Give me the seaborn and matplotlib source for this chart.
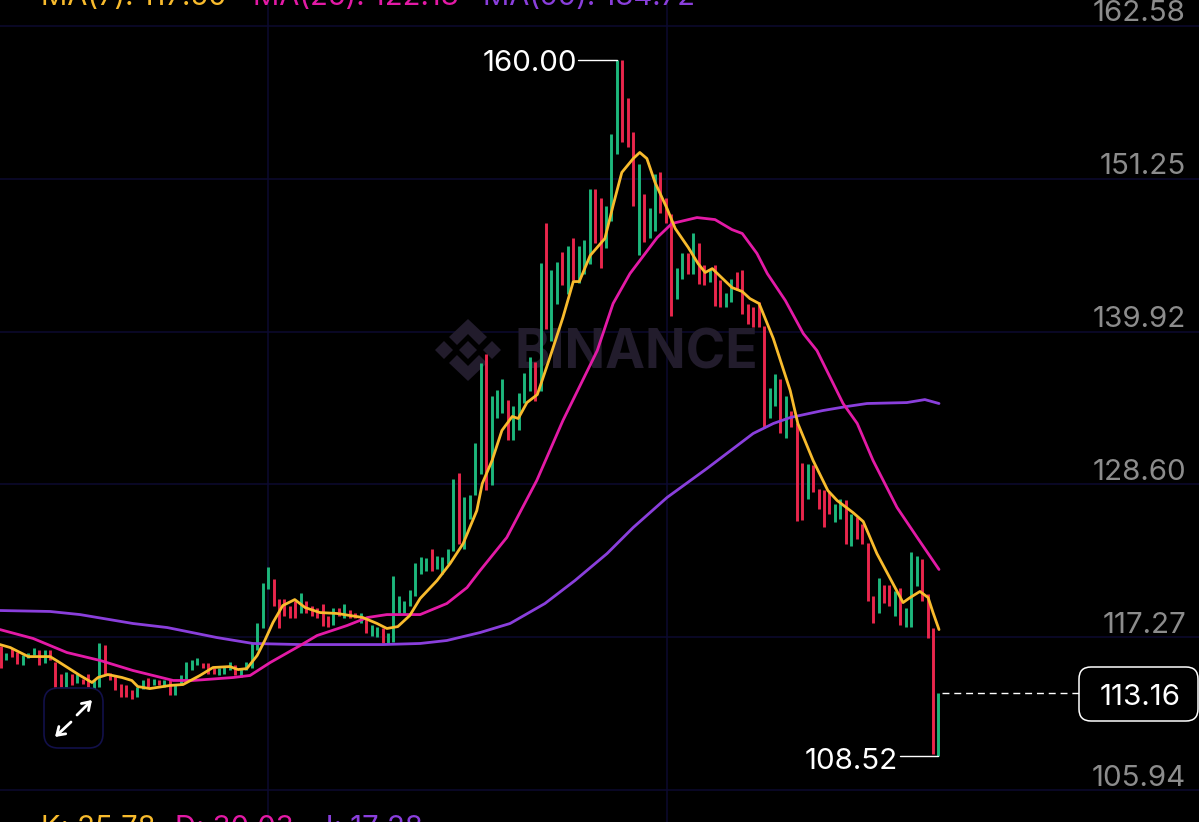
"""Binance style candle chart with three moving averages, saved to out.png."""

import matplotlib.pyplot as plt
import numpy as np
import pandas as pd
import seaborn as sns
from matplotlib.patches import FancyBboxPatch, Polygon

W, H = 1199, 822

GREEN = "#1db77c"
RED = "#e9264c"
YELLOW = "#f8bb2d"
MAGENTA = "#e31aa6"
PURPLE = "#8a3fdc"
GRID = "#0c0a30"
AXIS_TEXT = "#8c8c8c"

# bar ends in price, one entry per candle
candle_high = [
    116.67, 116.15, 116.45, 116.22, 116.00, 116.15, 116.45, 116.37, 116.30, 116.30,
    115.48, 114.59, 114.74, 114.59, 114.59, 114.22, 114.59, 114.08, 116.89, 116.74,
    114.67, 114.45, 113.85, 113.71, 113.41, 113.56, 114.08, 114.30, 114.22, 114.08,
    114.15, 114.08, 113.85, 114.52, 115.48, 115.56, 115.78, 115.41, 115.41, 115.04,
    115.04, 115.11, 115.48, 115.26, 114.96, 115.48, 116.82, 118.30, 121.33, 122.52,
    121.63, 120.15, 120.15, 119.63, 120.00, 120.59, 120.00, 119.63, 119.41, 119.78,
    118.89, 119.48, 119.41, 119.78, 119.33, 119.04, 119.11, 118.74, 118.22, 118.07,
    117.93, 117.56, 121.85, 120.37, 120.00, 120.81, 122.81, 123.26, 123.18, 123.85,
    123.33, 123.26, 123.85, 129.03, 129.48, 127.63, 127.85, 131.70, 137.62, 138.29,
    135.18, 135.62, 136.44, 134.88, 134.37, 135.40, 136.88, 138.07, 137.70, 145.03,
    147.92, 144.51, 145.10, 145.84, 146.29, 146.88, 146.29, 146.73, 150.51, 150.51,
    149.84, 149.18, 154.58, 160.00, 159.99, 157.25, 154.73, 152.36, 150.07, 149.10,
    151.62, 151.70, 149.84, 148.66, 144.66, 145.77, 145.70, 147.25, 146.44, 144.88,
    144.58, 144.81, 143.70, 142.81, 143.84, 144.36, 144.44, 141.99, 141.77, 142.14,
    140.36, 135.77, 136.74, 136.37, 135.11, 134.07, 133.18, 130.22, 130.14, 130.00,
    128.29, 128.15, 128.00, 127.18, 127.55, 127.48, 126.44, 126.15, 125.70, 124.29,
    120.37, 121.70, 121.18, 121.18, 120.74, 120.96, 119.48, 123.63, 123.33, 123.11,
    120.52, 117.93, 113.16,
]
candle_low = [
    115.04, 115.56, 115.85, 115.33, 115.26, 115.71, 115.93, 115.26, 115.41, 115.63,
    113.56, 113.56, 113.56, 113.71, 113.93, 113.85, 113.56, 113.41, 113.56, 114.59,
    114.08, 113.34, 112.89, 112.82, 112.74, 112.89, 113.48, 113.56, 113.71, 113.71,
    113.56, 112.97, 113.04, 113.71, 114.08, 114.89, 115.19, 115.04, 114.59, 114.59,
    114.45, 114.59, 114.89, 114.45, 114.37, 114.89, 115.04, 116.30, 118.00, 120.89,
    119.63, 118.00, 118.89, 118.74, 118.67, 119.04, 119.11, 118.89, 118.67, 118.15,
    118.07, 118.22, 118.89, 118.74, 118.67, 118.67, 118.30, 117.56, 117.41, 117.33,
    116.82, 116.82, 116.96, 119.04, 119.04, 119.56, 120.37, 122.00, 122.15, 122.15,
    122.30, 122.00, 122.74, 123.70, 124.22, 123.85, 126.07, 127.85, 129.40, 128.22,
    128.52, 133.48, 133.92, 131.92, 131.92, 132.66, 134.66, 135.55, 134.74, 135.48,
    140.14, 139.25, 141.99, 143.33, 142.73, 143.70, 143.55, 144.21, 144.95, 146.51,
    144.66, 146.14, 148.14, 153.10, 153.92, 153.55, 149.25, 145.55, 146.58, 146.81,
    147.40, 148.73, 147.92, 141.10, 142.36, 143.84, 144.21, 144.21, 143.47, 143.33,
    143.62, 141.84, 141.70, 141.70, 142.07, 142.96, 141.25, 140.51, 140.29, 140.22,
    132.81, 133.55, 134.44, 132.37, 132.00, 132.88, 125.92, 126.00, 127.55, 128.00,
    126.81, 125.41, 126.44, 125.78, 126.07, 124.22, 124.07, 124.59, 124.22, 120.00,
    118.30, 119.04, 119.85, 119.63, 118.89, 118.22, 118.07, 118.07, 121.04, 120.00,
    117.26, 108.67, 108.52,
]
candle_dir = (
    "RGRRGGGRGR" "RRGRGRRGGR" "RRRRRGGRGR" "GRGGGGGRRR" "GGGRGGGGGG"
    "RRRRRGRRRR" "RGRGRRGRGG" "RGGGGGGGGR" "GGGGRGGGGR" "GGGRGGGGRG"
    "RGGRGRGGGR" "RGGGRRRGRG" "GRRRGGRGRR" "GRRGGRRRRR" "RGGRGRRRGR"
    "RRRGGRGRRR" "RGRRGRGGGR" "RRG"
)

ma7_idx = [
    -0.2, 1.7, 5.0, 9.0, 10.5, 14.5, 16.7, 17.8, 19.6, 22.2, 24.0, 25.1, 27.3, 31.0,
    33.4, 36.5, 38.9, 42.0, 43.5, 45.1, 47.0, 48.4, 49.9, 51.7, 53.9, 55.8, 58.5, 61.7,
    66.4, 69.0, 70.8, 72.8, 75.0, 76.9, 80.0, 82.4, 84.8, 87.3, 88.3, 90.1, 91.9, 93.8,
    94.9, 96.5, 98.4, 100.7, 103.1, 105.0, 106.1, 108.1, 110.8, 112.3, 113.9, 116.0,
    117.2, 118.5, 120.0, 122.2, 123.7, 126.1, 127.9, 129.2, 130.5, 134.1, 136.0, 137.4,
    139.1, 141.7, 144.8, 146.2, 149.0, 151.7, 153.4, 156.3, 158.2, 160.7, 165.5, 166.8,
    168.6, 170.1, 171.0, 172.1,
]
ma7_val = [
    116.74, 116.52, 115.85, 115.85, 115.48, 114.45, 113.93, 114.30, 114.52, 114.30,
    114.08, 113.63, 113.48, 113.71, 113.78, 114.45, 115.04, 115.11, 114.89, 114.96,
    115.93, 117.04, 118.37, 119.63, 120.07, 119.48, 119.11, 119.04, 118.74, 118.30,
    117.93, 118.07, 118.89, 120.15, 121.48, 122.74, 124.22, 126.66, 128.66, 130.37,
    132.59, 133.63, 133.48, 134.66, 135.25, 137.99, 140.96, 143.62, 143.62, 145.55,
    146.81, 149.25, 151.70, 152.73, 153.18, 152.73, 150.96, 149.03, 147.55, 146.14,
    144.95, 144.29, 144.58, 143.18, 142.88, 142.36, 141.99, 139.40, 135.55, 133.11,
    130.37, 128.15, 127.41, 126.52, 125.85, 123.48, 119.85, 120.22, 120.67, 120.22,
    119.11, 117.85,
]
ma25_idx = [
    -0.2, 5.9, 12.1, 18.2, 24.2, 31.6, 35.2, 42.6, 45.7, 49.4, 54.9, 58.0, 63.5, 67.2,
    70.8, 76.9, 81.8, 85.5, 87.9, 92.8, 98.3, 103.1, 109.4, 112.3, 115.4, 120.4, 123.1,
    127.7, 131.0, 134.1, 136.0, 138.7, 140.6, 143.9, 147.2, 149.7, 154.5, 157.1, 160.0,
    164.4, 168.1, 172.1,
]
ma25_val = [
    117.85, 117.19, 116.15, 115.56, 114.82, 114.08, 114.08, 114.30, 114.45, 115.41,
    116.67, 117.41, 118.15, 118.74, 118.96, 118.96, 119.78, 120.96, 122.22, 124.67,
    128.89, 133.33, 138.51, 141.99, 144.21, 146.88, 147.92, 148.36, 148.21, 147.47,
    147.18, 145.70, 144.21, 142.22, 139.77, 138.51, 134.59, 133.11, 130.37, 126.89,
    124.67, 122.30,
]
ma99_idx = [
    -0.2, 9.0, 14.5, 24.2, 30.5, 39.6, 46.2, 54.9, 70.1, 76.9, 81.8, 87.9, 93.4, 99.8,
    105.3, 111.2, 116.0, 122.2, 129.5, 138.0, 141.7, 144.8, 150.8, 155.2, 158.9, 166.2,
    169.5, 172.1,
]
ma99_val = [
    119.26, 119.19, 118.96, 118.30, 118.00, 117.26, 116.82, 116.74, 116.74, 116.82,
    117.04, 117.63, 118.30, 119.78, 121.48, 123.48, 125.41, 127.63, 129.77, 132.37,
    133.11, 133.55, 134.07, 134.37, 134.59, 134.66, 134.88, 134.59,
]

price_ticks = [162.58, 151.25, 139.92, 128.60, 117.27, 105.94]
tick_labels = ["162.58", "151.25", "139.92", "128.60", "117.27", "105.94"]
vertical_grid = [49.0, 122.2]

high_price = 160.00
low_price = 108.52
last_price = 113.16

sns.set_theme(style="dark", rc={"axes.facecolor": "black", "figure.facecolor": "black"})
plt.rcParams["font.family"] = ["Inter", "DejaVu Sans"]

fig = plt.figure(figsize=(W / 100, H / 100), dpi=100)
ax = fig.add_axes([0, 0, 1, 1])
ax.set_xlim(-0.18, 219.8)
ax.set_ylim(103.60, 164.47)
for spine in ax.spines.values():
    spine.set_visible(False)

ax.set_yticks(price_ticks)
ax.set_xticks(vertical_grid)
ax.tick_params(left=False, bottom=False, labelleft=False, labelbottom=False)
ax.grid(True, color=GRID, lw=1.1)
ax.set_axisbelow(True)


def px(x, y):
    # figure pixels (origin top left) to axes fractions
    return x / W, 1 - y / H


# watermark
mark = "#221c2c"
for pts in [
    [(468, 319), (487, 337), (479, 345), (468, 334), (457, 345), (449, 337)],
    [(468, 381), (487, 363), (479, 355), (468, 366), (457, 355), (449, 363)],
    [(468, 341), (477, 350), (468, 359), (459, 350)],
    [(444, 341), (453, 350), (444, 359), (435, 350)],
    [(492, 341), (501, 350), (492, 359), (483, 350)],
]:
    ax.add_patch(Polygon([px(*p) for p in pts], closed=True, transform=ax.transAxes,
                         fc=mark, ec="none", zorder=1))
ax.text(*px(515, 354), "BINANCE", transform=ax.transAxes, color=mark, fontsize=38.5,
        fontweight="bold", ha="left", va="center", zorder=1)

# candles
x = np.arange(len(candle_high))
colors = [GREEN if d == "G" else RED for d in candle_dir]
ax.vlines(x, candle_low, candle_high, colors=colors, lw=2.1, zorder=3, capstyle="butt")

# moving averages
ma_frames = [
    (ma99_idx, ma99_val, PURPLE),
    (ma25_idx, ma25_val, MAGENTA),
    (ma7_idx, ma7_val, YELLOW),
]
for idx, val, color in ma_frames:
    df = pd.DataFrame({"bar": idx, "price": val})
    sns.lineplot(data=df, x="bar", y="price", ax=ax, color=color, lw=2.0, estimator=None,
                 sort=False, zorder=4)
ax.set_xlabel("")
ax.set_ylabel("")

# price scale labels sit just above their grid lines
for tick, label in zip(price_ticks, tick_labels):
    ax.annotate(label, xy=(1186 / W, tick), xycoords=("axes fraction", "data"),
                xytext=(0, 12), textcoords="offset pixels", ha="right", va="center",
                color=AXIS_TEXT, fontsize=21.3)

# high / low flags
ax.plot([x[113] - 7.1, x[113]], [high_price, high_price], color="white", lw=1, zorder=5)
ax.annotate(f"{high_price:.2f}", xy=(577 / W, high_price), xycoords=("axes fraction", "data"),
            xytext=(0, -3), textcoords="offset pixels", ha="right", va="center",
            color="white", fontsize=21.3)
ax.plot([x[172] - 7.1, x[172]], [low_price, low_price], color="white", lw=1, zorder=5)
ax.annotate(f"{low_price:.2f}", xy=(898 / W, low_price), xycoords=("axes fraction", "data"),
            xytext=(0, -6), textcoords="offset pixels", ha="right", va="center",
            color="white", fontsize=21.3)

# last price line and box
ax.plot([x[172] + 0.6, 1078 / 5.45], [last_price, last_price], color="white", lw=1,
        dashes=(5, 3.5), zorder=5)
x0, y1 = px(1079, 667)
x1, y0 = px(1198, 721)
ax.add_patch(FancyBboxPatch((x0, y0), x1 - x0, y1 - y0,
                            boxstyle="round,pad=0,rounding_size=0.01",
                            mutation_aspect=W / H, transform=ax.transAxes,
                            fc="black", ec="white", lw=1.1, zorder=6))
ax.text(*px(1140, 697), f"{last_price:.2f}", transform=ax.transAxes, ha="center",
        va="center", color="white", fontsize=21.3, zorder=7)

# expand button
x0, y1 = px(44, 688)
x1, y0 = px(103, 748)
ax.add_patch(FancyBboxPatch((x0, y0), x1 - x0, y1 - y0,
                            boxstyle="round,pad=0,rounding_size=0.012",
                            mutation_aspect=W / H, transform=ax.transAxes,
                            fc="black", ec="#12104a", lw=1.2, zorder=6))
for start, end in [((77, 715), (92, 700)), ((71, 722), (55, 737))]:
    ax.annotate("", xy=px(*end), xytext=px(*start), xycoords="axes fraction",
                textcoords="axes fraction", zorder=7,
                arrowprops=dict(arrowstyle="->,head_length=0.45,head_width=0.3",
                                color="white", lw=2, shrinkA=0, shrinkB=0))

# indicator readouts, cut off by the screenshot edges as in the screenshot
top_row = [("MA(7): 117.50", 41, YELLOW), ("MA(25): 122.13", 253, MAGENTA),
           ("MA(99): 134.72", 483, PURPLE)]
for label, left, color in top_row:
    ax.text(*px(left, -2), label, transform=ax.transAxes, color=color, fontsize=21,
            ha="left", va="center", clip_on=False)
bottom_row = [("K: 25.78", 41, YELLOW), ("D: 30.03", 175, MAGENTA), ("J: 17.28", 317, PURPLE)]
for label, left, color in bottom_row:
    ax.text(*px(left, 828), label, transform=ax.transAxes, color=color, fontsize=21,
            ha="left", va="center", clip_on=False)

fig.savefig("out.png", dpi=100, facecolor="black")
plt.close(fig)
